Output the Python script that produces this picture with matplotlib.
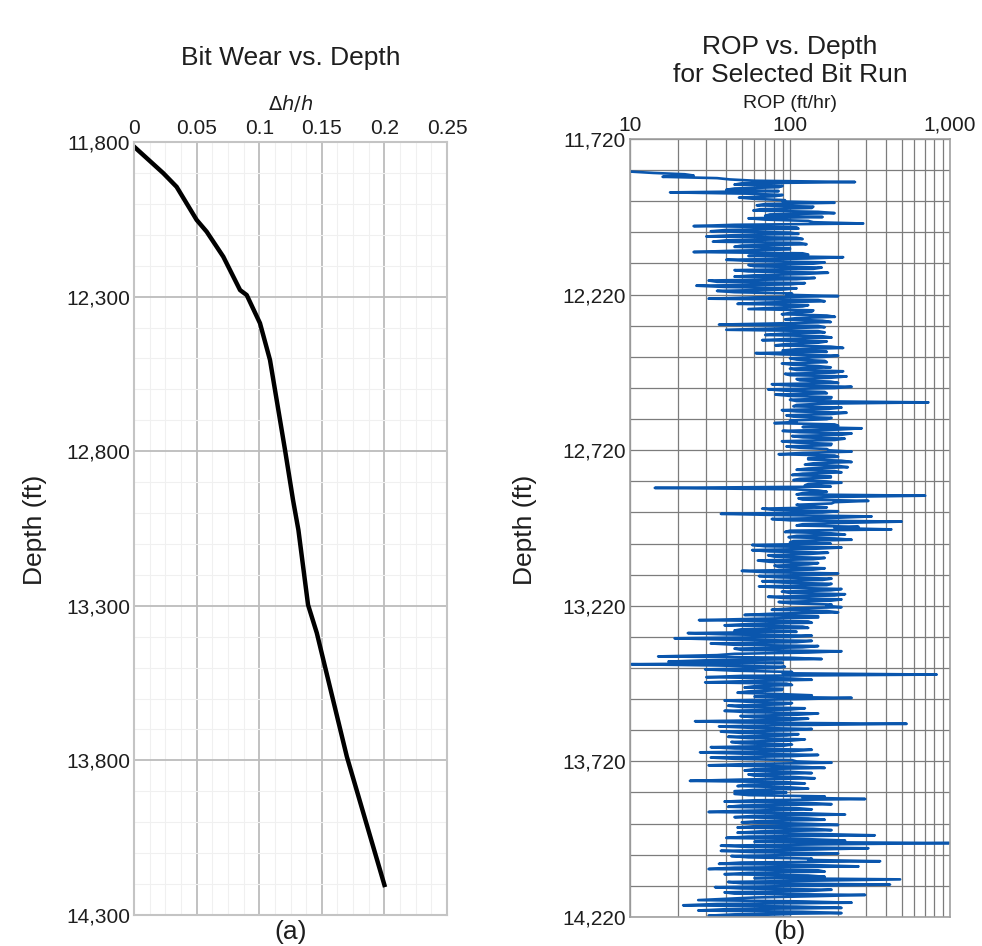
import numpy as np
import matplotlib.pyplot as plt
from matplotlib.ticker import FixedLocator, MultipleLocator, LogLocator, NullFormatter

plt.rcParams['font.family'] = ['Liberation Sans', 'DejaVu Sans']

# (a) bit wear vs depth
wear_depth = [11815, 11901, 11945, 12052, 12090, 12171, 12279, 12295, 12386, 12505,
              12796, 12958, 13055, 13297, 13388, 13788, 14203]
wear = [0.0, 0.0234, 0.034, 0.050, 0.058, 0.0713, 0.0847, 0.090, 0.1006, 0.1086,
        0.1206, 0.127, 0.1313, 0.139, 0.146, 0.170, 0.200]

# (b) ROP log, 12 readings per 100 ft from 11,825 ft down to 14,220 ft
# rop_peaks = the outer swings, rop_core = the dense middle of the trace
rop_peaks = [
    10.2, 22, 16, 42, 255, 45, 85, 40, 17.8, 90, 48, 93,
    190, 62, 137, 59, 190, 70, 55, 130, 287, 25, 113, 32,
    113, 30, 120, 33, 127, 45, 100, 25, 130, 215, 40, 165,
    55, 158, 45, 173, 60, 143, 31, 124, 26, 110, 35, 103,
    200, 31, 165, 47, 120, 55, 137, 89, 191, 93, 180, 36,
    165, 40, 165, 70, 182, 67, 150, 81, 215, 90, 61, 200,
    100, 165, 89, 150, 100, 215, 93, 226, 110, 180, 77, 243,
    73, 165, 81, 182, 100, 733, 110, 210, 89, 226, 95, 182,
    100, 80, 200, 281, 90, 243, 103, 220, 89, 182, 95, 170,
    243, 85, 200, 130, 243, 124, 230, 110, 210, 103, 180, 105,
    210, 124, 14.3, 150, 120, 700, 113, 309, 182, 120, 67, 200,
    37, 324, 77, 499, 120, 268, 430, 93, 221, 98, 243, 100,
    58, 210, 58, 173, 73, 165, 63, 150, 80, 165, 50, 200,
    64, 182, 67, 182, 64, 210, 89, 221, 73, 210, 85, 182,
    210, 77, 200, 52, 150, 27, 137, 39, 130, 45, 23, 137,
    19, 137, 32, 150, 45, 210, 45, 15, 158, 17.4, 10.2, 93,
    29.5, 103, 826, 30, 137, 29.5, 103, 52, 89, 47, 137, 243,
    39, 103, 41, 124, 39, 150, 49, 130, 25.5, 536, 36, 137,
    37, 113, 41, 124, 43, 103, 32, 137, 27.4, 150, 32, 103,
    182, 31, 165, 52, 137, 60, 143, 23.7, 124, 47, 130, 45,
    45, 165, 295, 39, 182, 41, 137, 31, 221, 45, 165, 50,
    200, 47, 182, 47, 339, 40, 221, 990, 37, 309, 37, 200,
    43, 137, 366, 36, 268, 31, 165, 39, 165, 488, 41, 422,
    34, 182, 39, 295, 60, 26.7, 243, 21.5, 210, 26.7, 210, 31,
]
rop_core = [
    14, 25, 35, 60, 50, 90, 45, 85, 55, 80, 60, 90,
    70, 140, 65, 150, 75, 160, 70, 140, 45, 110, 40, 100,
    45, 110, 40, 115, 50, 100, 45, 120, 55, 130, 60, 140,
    60, 140, 55, 120, 45, 110, 35, 100, 40, 90, 45, 95,
    60, 150, 70, 130, 80, 140, 100, 170, 110, 160, 90, 150,
    80, 150, 90, 160, 100, 170, 95, 180, 110, 170, 90, 160,
    110, 170, 105, 180, 110, 190, 100, 180, 115, 200, 100, 190,
    95, 170, 100, 180, 110, 160, 105, 175, 110, 180, 105, 170,
    110, 190, 120, 200, 115, 210, 120, 190, 110, 180, 115, 175,
    120, 190, 130, 210, 140, 200, 130, 190, 120, 180, 115, 170,
    130, 180, 100, 170, 110, 180, 120, 190, 110, 170, 80, 160,
    90, 200, 100, 210, 110, 190, 100, 180, 110, 190, 105, 180,
    70, 140, 75, 130, 80, 140, 75, 130, 85, 140, 70, 150,
    85, 160, 90, 170, 95, 180, 100, 190, 95, 180, 100, 170,
    100, 170, 80, 150, 60, 130, 55, 120, 50, 110, 40, 100,
    40, 110, 45, 120, 50, 130, 35, 100, 30, 90, 35, 80,
    45, 90, 50, 100, 55, 95, 60, 90, 55, 85, 60, 110,
    55, 90, 50, 100, 55, 110, 60, 100, 50, 95, 55, 100,
    50, 95, 55, 100, 50, 90, 45, 105, 50, 100, 45, 110,
    55, 110, 60, 100, 55, 105, 50, 95, 55, 100, 60, 95,
    55, 120, 60, 130, 50, 110, 55, 120, 60, 130, 65, 120,
    60, 140, 65, 150, 55, 130, 60, 160, 55, 140, 60, 130,
    55, 130, 50, 140, 45, 150, 55, 130, 60, 140, 50, 130,
    50, 130, 45, 140, 40, 120, 35, 110, 40, 120, 45, 100,
]
rop = np.column_stack([rop_peaks, rop_core]).ravel()
rop_depth = np.linspace(11825, 14220, len(rop))

wear_ticks = [0, 0.05, 0.1, 0.15, 0.2, 0.25]
wear_labels = ['0', '0.05', '0.1', '0.15', '0.2', '0.25']
depth_a_ticks = [11800, 12300, 12800, 13300, 13800, 14300]
depth_b_ticks = [11720, 12220, 12720, 13220, 13720, 14220]
rop_ticks = [10, 100, 1000]
rop_labels = ['10', '100', '1,000']

TICK = 15
TXT = '#1e1e1e'

fig = plt.figure(figsize=(9.82, 9.46), dpi=100)

# ---- left panel
ax1 = fig.add_axes([0.1365, 0.0328, 0.3187, 0.8171])
ax1.plot(wear, wear_depth, color='black', lw=3.2)
ax1.set_xlim(0, 0.25)
ax1.set_ylim(14300, 11800)
ax1.xaxis.tick_top()
ax1.set_xticks(wear_ticks)
ax1.set_xticklabels(wear_labels)
ax1.set_yticks(depth_a_ticks)
ax1.set_yticklabels([f'{d:,}' for d in depth_a_ticks])
ax1.xaxis.set_minor_locator(MultipleLocator(0.0125))
ax1.yaxis.set_minor_locator(MultipleLocator(100))
ax1.grid(which='major', color='#bcbcbc', lw=1.3)
ax1.grid(which='minor', color='#f0f0f0', lw=0.8)
ax1.set_axisbelow(True)
ax1.tick_params(which='both', length=0, labelsize=TICK, pad=3, labelcolor=TXT)
for s in ax1.spines.values():
    s.set_color('#c4c4c4')
    s.set_linewidth(1.5)

fig.text(0.2958, 0.9387, 'Bit Wear vs. Depth', ha='center', va='center',
         fontsize=19, color=TXT)
fig.text(0.2958, 0.891, r'$\Delta$$\it{h/h}$', ha='center', va='center',
         fontsize=14, color=TXT)
fig.text(0.036, 0.44, 'Depth (ft)', ha='center', va='center', rotation=90,
         fontsize=19, color=TXT)
fig.text(0.2958, 0.0148, '(a)', ha='center', va='center', fontsize=19, color=TXT)

# ---- right panel
ax2 = fig.add_axes([0.6415, 0.0307, 0.3259, 0.8224])
ax2.plot(rop, rop_depth, color='#0a56ad', lw=1.9)
ax2.set_xscale('log')
ax2.set_xlim(10, 1000)
ax2.set_ylim(14220, 11720)
ax2.xaxis.tick_top()
ax2.set_xticks(rop_ticks)
ax2.set_xticklabels(rop_labels)
ax2.xaxis.set_minor_locator(LogLocator(base=10, subs=np.arange(2, 10)))
ax2.xaxis.set_minor_formatter(NullFormatter())
ax2.set_yticks(depth_b_ticks)
ax2.set_yticklabels([f'{d:,}' for d in depth_b_ticks])
ax2.yaxis.set_minor_locator(FixedLocator(np.arange(11820, 14220, 100)))
ax2.grid(which='both', color='#7c7c7c', lw=0.9)
ax2.set_axisbelow(True)
ax2.tick_params(which='both', length=0, labelsize=TICK, pad=3, labelcolor=TXT)
for s in ax2.spines.values():
    s.set_color('#a0a0a0')
    s.set_linewidth(1.2)

fig.text(0.8045, 0.9355, 'ROP vs. Depth\nfor Selected Bit Run', ha='center',
         va='center', fontsize=19, color=TXT, linespacing=1.25)
fig.text(0.8045, 0.891, 'ROP (ft/hr)', ha='center', va='center',
         fontsize=14, color=TXT)
fig.text(0.535, 0.44, 'Depth (ft)', ha='center', va='center', rotation=90,
         fontsize=19, color=TXT)
fig.text(0.8045, 0.0148, '(b)', ha='center', va='center', fontsize=19, color=TXT)

fig.savefig('out.png', dpi=100, facecolor='white')
